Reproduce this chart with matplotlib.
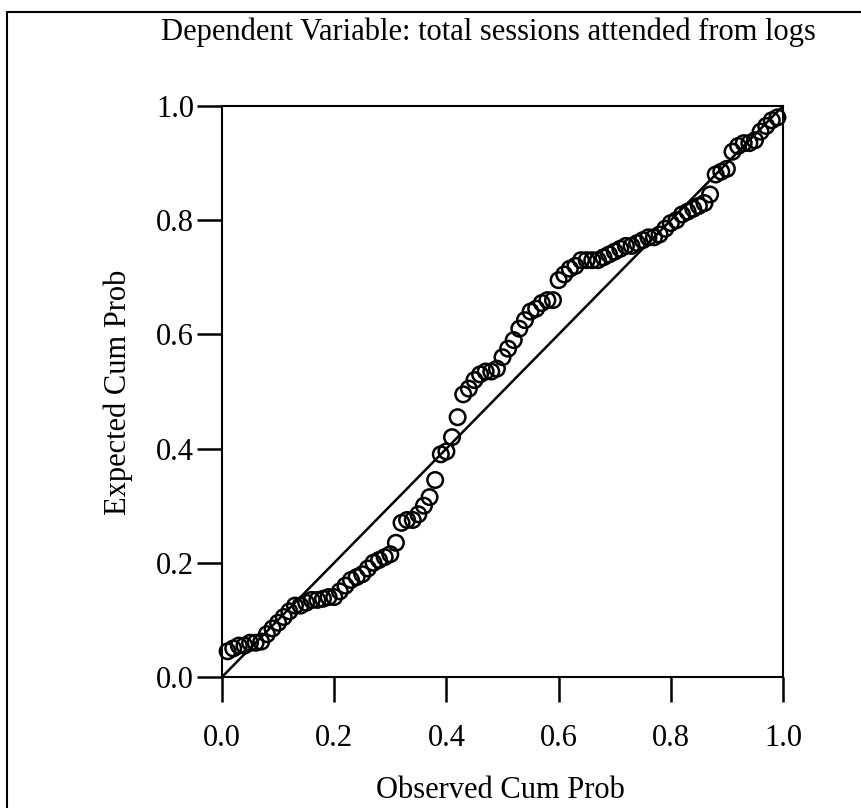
import numpy as np
import matplotlib
matplotlib.use("Agg")
import matplotlib.pyplot as plt
from matplotlib.patches import Rectangle

# Observed vs expected cumulative probability
observed = [
    0.01, 0.02, 0.03, 0.04, 0.05, 0.06, 0.07, 0.08, 0.09, 0.10,
    0.11, 0.12, 0.13, 0.14, 0.15, 0.16, 0.17, 0.18, 0.19, 0.20,
    0.21, 0.22, 0.23, 0.24, 0.25, 0.26, 0.27, 0.28, 0.29, 0.30,
    0.31, 0.32, 0.33, 0.34, 0.35, 0.36, 0.37, 0.38, 0.39, 0.40,
    0.41, 0.42, 0.43, 0.44, 0.45, 0.46, 0.47, 0.48, 0.49, 0.50,
    0.51, 0.52, 0.53, 0.54, 0.55, 0.56, 0.57, 0.58, 0.59, 0.60,
    0.61, 0.62, 0.63, 0.64, 0.65, 0.66, 0.67, 0.68, 0.69, 0.70,
    0.71, 0.72, 0.73, 0.74, 0.75, 0.76, 0.77, 0.78, 0.79, 0.80,
    0.81, 0.82, 0.83, 0.84, 0.85, 0.86, 0.87, 0.88, 0.89, 0.90,
    0.91, 0.92, 0.93, 0.94, 0.95, 0.96, 0.97, 0.98, 0.99,
]
expected = [
    0.045, 0.050, 0.055, 0.055, 0.060, 0.060, 0.062, 0.075, 0.085, 0.095,
    0.105, 0.115, 0.125, 0.125, 0.130, 0.135, 0.135, 0.137, 0.140, 0.140,
    0.150, 0.160, 0.170, 0.175, 0.180, 0.190, 0.200, 0.205, 0.210, 0.215,
    0.235, 0.270, 0.275, 0.275, 0.285, 0.300, 0.315, 0.345, 0.390, 0.395,
    0.420, 0.455, 0.495, 0.505, 0.520, 0.530, 0.535, 0.535, 0.540, 0.560,
    0.575, 0.590, 0.610, 0.625, 0.640, 0.645, 0.655, 0.660, 0.660, 0.695,
    0.705, 0.715, 0.720, 0.730, 0.730, 0.730, 0.730, 0.735, 0.740, 0.745,
    0.750, 0.755, 0.755, 0.760, 0.765, 0.770, 0.770, 0.775, 0.785, 0.795,
    0.800, 0.810, 0.815, 0.820, 0.825, 0.830, 0.845, 0.880, 0.885, 0.890,
    0.920, 0.930, 0.935, 0.935, 0.940, 0.955, 0.965, 0.975, 0.980,
]
ticks = [0.0, 0.2, 0.4, 0.6, 0.8, 1.0]
tick_labels = ["0.0", "0.2", "0.4", "0.6", "0.8", "1.0"]

plt.rcParams["font.family"] = ["Liberation Serif", "DejaVu Serif"]
W, H = 862, 808

fig = plt.figure(figsize=(W / 100, H / 100), dpi=100)

# outer frame (cropped on right/bottom like the scan)
fig.patches.append(Rectangle((7 / W, -0.05), 1.2, 1 - 12 / H + 0.05,
                             transform=fig.transFigure, fill=False,
                             edgecolor="black", linewidth=1.5))

ax = fig.add_axes([222 / W, 1 - 677 / H, 561 / W, 571 / H])
ax.plot([0, 1], [0, 1], color="black", linewidth=1.8, zorder=2)
ax.scatter(observed, expected, s=125, facecolors="none", edgecolors="black",
           linewidths=1.8, zorder=3, clip_on=False)

ax.set_xlim(0, 1)
ax.set_ylim(0, 1)
ax.set_xticks(ticks)
ax.set_xticklabels(tick_labels)
ax.set_yticks(ticks)
ax.set_yticklabels(tick_labels)
ax.tick_params(direction="out", length=18, width=1.8, labelsize=22)
ax.tick_params(axis="x", pad=16)
ax.tick_params(axis="y", pad=2)
for sp in ax.spines.values():
    sp.set_linewidth(1.5)

fig.text(500 / W, 1 - 790 / H, "Observed Cum Prob", fontsize=22,
         ha="center", va="center")
fig.text(118 / W, 1 - 392 / H, "Expected Cum Prob", fontsize=22,
         ha="center", va="center", rotation=90)
fig.text(488 / W, 1 - 32 / H, "Dependent Variable: total sessions attended from logs",
         fontsize=22, ha="center", va="center")

fig.savefig("out.png", dpi=100)
